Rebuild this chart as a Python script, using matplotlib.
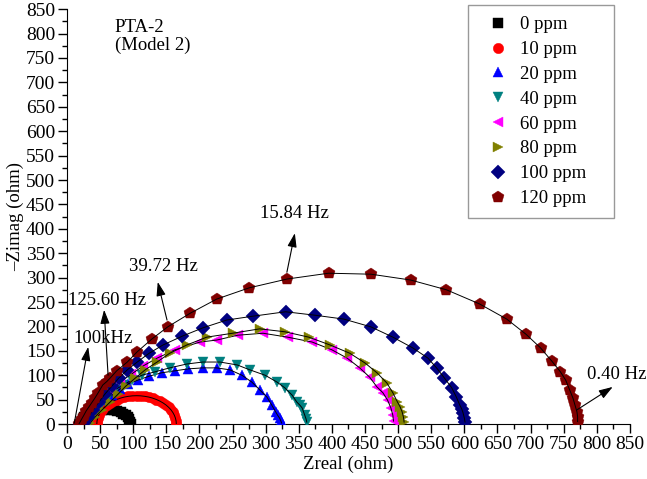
import matplotlib
matplotlib.use("Agg")
import matplotlib.pyplot as plt
from matplotlib.ticker import MultipleLocator

plt.rcParams["font.family"] = ["Liberation Serif", "DejaVu Serif"]
plt.rcParams["font.size"] = 13.5

# ------------------------------------------------------------
# DATA
# ------------------------------------------------------------
labels = ["0 ppm", "10 ppm", "20 ppm", "40 ppm", "60 ppm", "80 ppm", "100 ppm", "120 ppm"]
markers = ["s", "o", "^", "v", "<", ">", "D", "p"]
colors = ["#000000", "#ff0000", "#0000ff", "#008080", "#ff00ff", "#808000", "#000080", "#800000"]

x_0 = [22, 22.4, 23.8, 26, 29.1, 32.8, 37.2, 42.2, 47.6, 53.2, 59, 64.8, 70.4, 75.8,
       80.8, 85.2, 88.9, 92, 94.2, 95.6, 96]
y_0 = [0, 4.7, 9.3, 13.6, 17.6, 21.2, 24.3, 26.7, 28.5, 29.6, 30, 29.6, 28.5, 26.7,
       24.3, 21.2, 17.6, 13.6, 9.3, 4.7, 0]

x_10 = [45, 45.3, 46.3, 47.9, 50.2, 53, 56.5, 60.4, 64.9, 69.7, 75, 80.6, 86.5, 92.5,
        98.7, 105, 111.3, 117.5, 123.5, 129.4, 135, 140.3, 145.1, 149.6, 153.5, 157,
        159.8, 162.1, 163.7, 164.7, 165]
y_10 = [0, 6.1, 12.1, 17.9, 23.6, 29, 34.1, 38.8, 43.1, 46.9, 50.2, 53, 55.2, 56.7,
        57.7, 58, 57.7, 56.7, 55.2, 53, 50.2, 46.9, 43.1, 38.8, 34.1, 29, 23.6, 17.9,
        12.1, 6.1, 0]

x_20 = [17, 27, 38, 47, 57, 68, 80, 92, 107, 124, 143, 163, 183, 205, 226, 246, 264,
        279, 291, 302, 309, 315, 318, 321, 323, 324]
y_20 = [0, 8, 23, 35, 49, 59, 72, 82, 90, 98, 105, 109, 113, 115, 115, 111, 100, 86,
        70, 55, 39, 25, 18, 12, 6, 2]

x_40 = [22, 32, 38, 45, 53, 62, 72, 85, 98, 113, 133, 155, 181, 205, 231, 257, 276,
        299, 317, 329, 340, 347, 352, 355, 359, 361, 362]
y_40 = [0, 2, 14, 29, 43, 55, 70, 80, 90, 100, 107, 115, 123, 127, 127, 121, 111, 100,
        86, 74, 59, 45, 38, 33, 18, 10, 4]

x_60 = [22, 27, 35, 44, 54, 66, 80, 97, 115, 136, 163, 201, 226, 258, 296, 333, 370,
        400, 423, 442, 457, 468, 477, 484, 489, 492, 493]
y_60 = [0, 8, 23, 37, 53, 70, 86, 102, 119, 135, 152, 168, 172, 182, 186, 178, 168,
        152, 135, 115, 96, 76, 64, 49, 33, 18, 6]

x_80 = [25, 35, 42, 53, 65, 77, 89, 103, 118, 136, 155, 181, 211, 250, 291, 329, 365,
        397, 427, 450, 468, 483, 492, 499, 503, 506, 508, 509]
y_80 = [0, 2, 14, 29, 45, 61, 78, 94, 111, 127, 145, 162, 178, 186, 195, 189, 178,
        162, 145, 125, 105, 84, 64, 45, 35, 25, 14, 4]

x_100 = [20, 26, 32, 39, 48, 57, 68, 78, 91, 106, 124, 145, 174, 205, 241, 281, 330,
         374, 418, 459, 492, 522, 545, 558, 570, 581, 588, 593, 596, 598, 600, 601]
y_100 = [0, 2, 14, 29, 45, 61, 78, 94, 111, 127, 145, 162, 180, 197, 213, 221, 230,
         223, 215, 199, 178, 156, 135, 115, 94, 74, 55, 39, 31, 23, 12, 4]

x_120 = [18, 20, 22, 25, 29, 33, 37, 42, 47, 54, 60, 65, 75, 91, 106, 128, 152, 186,
         226, 275, 332, 395, 459, 519, 573, 623, 664, 693, 715, 732, 745, 753, 759,
         764, 767, 770, 771, 771]
y_120 = [0, 5, 10, 17, 27, 35, 43, 53, 64, 80, 87, 94, 109, 127, 148, 174, 199, 227,
         256, 279, 297, 309, 307, 295, 275, 246, 215, 184, 156, 129, 107, 90, 70, 53,
         39, 25, 15, 5]

xs = [x_0, x_10, x_20, x_40, x_60, x_80, x_100, x_120]
ys = [y_0, y_10, y_20, y_40, y_60, y_80, y_100, y_120]

# frequency annotations: (text, text pos, arrow tail, arrow head)
freq_text = ["100kHz", "125.60 Hz", "39.72 Hz", "15.84 Hz", "0.40 Hz"]
freq_text_xy = [(54, 176), (61, 254), (146, 322), (343, 432), (785, 102)]
freq_tail = [(11, 2), (62, 100), (151, 213), (332, 311), (770, 29)]
freq_head = [(32, 158), (56, 234), (137, 291), (344, 391), (824, 76)]

# ------------------------------------------------------------
# PLOT
# ------------------------------------------------------------
fig = plt.figure(figsize=(6.47, 4.79), dpi=100)
ax = fig.add_axes([0.1036, 0.1148, 0.870, 0.866])

order = [1, 0, 2, 3, 4, 5, 6, 7]
handles = {}
for i in order:
    h, = ax.plot(xs[i], ys[i], linestyle="none", marker=markers[i], color=colors[i],
                 markersize=7.5 if markers[i] != "p" else 9, markeredgewidth=0.3,
                 label=labels[i], zorder=2 + i)
    ax.plot(xs[i], ys[i], color="black", linewidth=0.7, zorder=2 + i + 0.5)
    handles[i] = h

for txt, txy, tail, head in zip(freq_text, freq_text_xy, freq_tail, freq_head):
    ax.annotate("", xy=head, xytext=tail,
                arrowprops=dict(arrowstyle="-|>,head_length=0.6,head_width=0.2",
                                color="black", lw=0.8,
                                mutation_scale=14, shrinkA=0, shrinkB=0),
                zorder=20)
    ha = "left" if txt == "0.40 Hz" else "center"
    ax.text(txy[0], txy[1], txt, ha=ha, va="center", fontsize=13.5, zorder=21)

ax.text(72, 830, "PTA-2\n(Model 2)", ha="left", va="top", fontsize=13.5, linespacing=1.05)

ax.set_xlim(0, 850)
ax.set_ylim(0, 850)
ax.xaxis.set_major_locator(MultipleLocator(50))
ax.yaxis.set_major_locator(MultipleLocator(50))
ax.xaxis.set_minor_locator(MultipleLocator(25))
ax.yaxis.set_minor_locator(MultipleLocator(25))
ax.tick_params(which="major", direction="out", length=6.5, width=1, labelsize=14, pad=2)
ax.tick_params(which="minor", direction="out", length=3.5, width=1)
ax.spines["top"].set_visible(False)
ax.spines["right"].set_visible(False)
ax.set_xlabel("Zreal (ohm)", fontsize=13.5, labelpad=2)
ax.set_ylabel("–Zimag (ohm)", fontsize=13.5, labelpad=1)

leg = ax.legend([handles[i] for i in range(8)], labels, loc="upper left",
                bbox_to_anchor=(468 / 647, 1 - 5 / 479, 146 / 647, 0),
                bbox_transform=fig.transFigure, mode="expand",
                frameon=True, fancybox=False, edgecolor="gray", fontsize=13.5,
                handlelength=2.0, handletextpad=0.15, labelspacing=0.41,
                borderpad=0.6, borderaxespad=0, numpoints=1)
leg.get_frame().set_linewidth(1)
leg.set_zorder(30)

fig.savefig("out.png", dpi=100)
